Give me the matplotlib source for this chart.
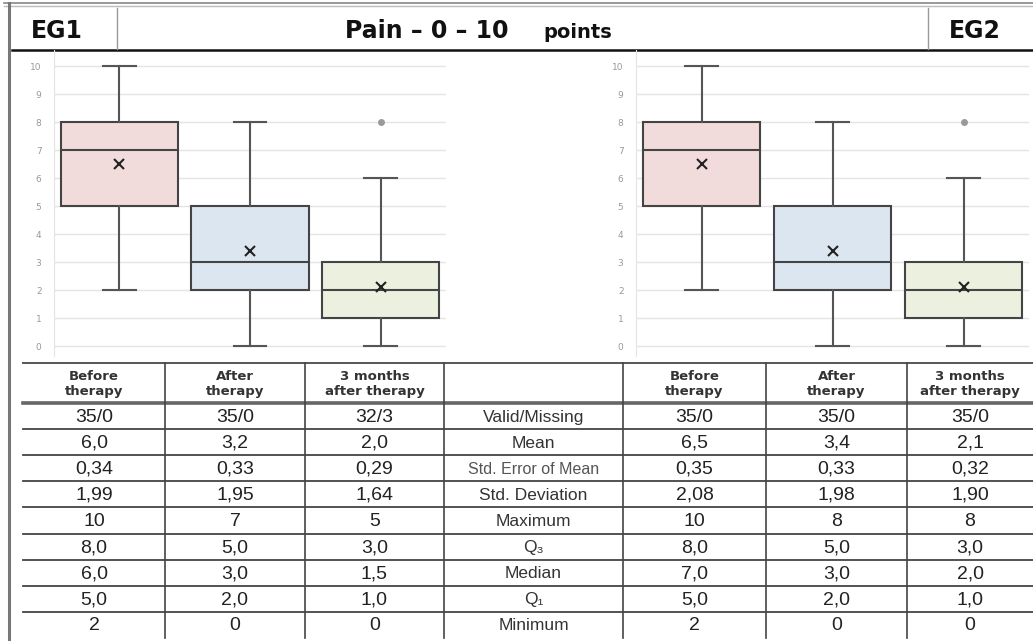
import matplotlib
matplotlib.use("Agg")
import matplotlib.pyplot as plt

# ---------------- data ----------------
groups = ["EG1", "EG2"]
phases = ["Before\ntherapy", "After\ntherapy", "3 months\nafter therapy"]

# box plot statistics (as drawn, identical in both panels)
box_whislo = [2, 0, 0]
box_q1 = [5, 2, 1]
box_med = [7, 3, 2]
box_q3 = [8, 5, 3]
box_whishi = [10, 8, 6]
box_mean = [6.5, 3.4, 2.1]
box_fliers = [[], [], [8]]
box_colors = ["#f2dcdb", "#dce6f1", "#ebf1de"]

stat_labels = ["Valid/Missing", "Mean", "Std. Error of Mean", "Std. Deviation",
               "Maximum", "Q\u2083", "Median", "Q\u2081", "Minimum"]
eg1_before = ["35/0", "6,0", "0,34", "1,99", "10", "8,0", "6,0", "5,0", "2"]
eg1_after = ["35/0", "3,2", "0,33", "1,95", "7", "5,0", "3,0", "2,0", "0"]
eg1_3m = ["32/3", "2,0", "0,29", "1,64", "5", "3,0", "1,5", "1,0", "0"]
eg2_before = ["35/0", "6,5", "0,35", "2,08", "10", "8,0", "7,0", "5,0", "2"]
eg2_after = ["35/0", "3,4", "0,33", "1,98", "8", "5,0", "3,0", "2,0", "0"]
eg2_3m = ["35/0", "2,1", "0,32", "1,90", "8", "3,0", "2,0", "1,0", "0"]

# ---------------- figure ----------------
W, H = 1033, 641
fig = plt.figure(figsize=(W / 100, H / 100), dpi=100)
fig.patch.set_facecolor("white")

ov = fig.add_axes([0, 0, 1, 1], zorder=0)
ov.set_xlim(0, W)
ov.set_ylim(H, 0)
ov.axis("off")

# outer frame / header
ov.plot([4, W], [3, 3], color="#888888", lw=1.2)
ov.plot([4, W], [6, 6], color="#bbbbbb", lw=1.0)
ov.plot([9, 9], [3, H], color="#777777", lw=2.2)
ov.plot([12, W], [50, 50], color="#111111", lw=1.8)
ov.plot([117, 117], [8, 49], color="#999999", lw=1.0)
ov.plot([928, 928], [8, 49], color="#999999", lw=1.0)

ov.text(57, 38, groups[0], fontsize=17, fontweight="bold", ha="center",
        va="baseline", color="#111111", family="DejaVu Sans")
ov.text(975, 38, groups[1], fontsize=17, fontweight="bold", ha="center",
        va="baseline", color="#111111", family="DejaVu Sans")
ov.text(427, 38, "Pain \u2013 0 \u2013 10", fontsize=17, fontweight="bold",
        ha="center", va="baseline", color="#111111", family="DejaVu Sans")
ov.text(578, 38, "points", fontsize=14, fontweight="bold", ha="center",
        va="baseline", color="#111111", family="DejaVu Sans")


# ---------------- box plots ----------------
def make_box_axes(x0, x1):
    y0, y1 = 50, 356
    ax = fig.add_axes([x0 / W, 1 - y1 / H, (x1 - x0) / W, (y1 - y0) / H], zorder=2)
    ax.set_facecolor("none")
    stats = []
    for i in range(3):
        stats.append(dict(whislo=box_whislo[i], q1=box_q1[i], med=box_med[i],
                          q3=box_q3[i], whishi=box_whishi[i], mean=box_mean[i],
                          fliers=box_fliers[i], label=""))
    res = ax.bxp(stats, positions=[1, 2, 3], widths=0.9, capwidths=0.25,
                 patch_artist=True, showmeans=True,
                 boxprops=dict(edgecolor="#444444", linewidth=1.5),
                 whiskerprops=dict(color="#555555", linewidth=1.5),
                 capprops=dict(color="#555555", linewidth=1.5),
                 medianprops=dict(color="#444444", linewidth=1.5),
                 meanprops=dict(marker="x", markeredgecolor="#222222",
                                markersize=7, markeredgewidth=1.5),
                 flierprops=dict(marker="o", markerfacecolor="#9a9a9a",
                                 markeredgecolor="#9a9a9a", markersize=4))
    for patch, c in zip(res["boxes"], box_colors):
        patch.set_facecolor(c)
    ax.set_xlim(0.5, 3.5)
    ax.set_ylim(-10 / 28, 10 + 16 / 28)
    ax.set_yticks(range(0, 11))
    ax.set_xticks([])
    ax.tick_params(axis="y", length=0, pad=9, labelsize=6.5, labelcolor="#999999")
    ax.yaxis.grid(True, color="#e4e4e4", linewidth=1.0)
    ax.set_axisbelow(True)
    for s in ["top", "right", "bottom"]:
        ax.spines[s].set_visible(False)
    ax.spines["left"].set_color("#e4e4e4")
    return ax


make_box_axes(54, 446)
make_box_axes(636, 1029)

# ---------------- table ----------------
col_lines = [23, 165, 305, 444, 623, 766, 907, W]
head_top, head_bot = 363, 403
row_h = 26.1
n_rows = len(stat_labels)
row_edges = [head_bot + i * row_h for i in range(n_rows + 1)]

ov.plot([23, W], [head_top, head_top], color="#555555", lw=1.4)
ov.plot([23, W], [head_bot, head_bot], color="#666666", lw=2.6)
for y in row_edges[1:-1]:
    ov.plot([23, W], [y, y], color="#444444", lw=1.3)
for x in col_lines[1:-1]:
    ov.plot([x, x], [head_top, row_edges[-1]], color="#444444", lw=1.2)

centers = [(col_lines[i] + col_lines[i + 1]) / 2 for i in range(7)]
head_cols = [0, 1, 2, 4, 5, 6]
for k, ci in enumerate(head_cols):
    ov.text(centers[ci], (head_top + head_bot) / 2 + 1, phases[k % 3],
            fontsize=9.5, fontweight="bold", ha="center", va="center",
            color="#333333", family="DejaVu Sans", linespacing=1.25)

data_cols = [eg1_before, eg1_after, eg1_3m, stat_labels, eg2_before, eg2_after, eg2_3m]
for ci, col in enumerate(data_cols):
    for ri, val in enumerate(col):
        yc = (row_edges[ri] + row_edges[ri + 1]) / 2 + 1
        if ci == 3:
            fs = 11.5 if val == "Std. Error of Mean" else 12.5
            colr = "#555555" if val == "Std. Error of Mean" else "#333333"
            ov.text(centers[ci], yc, val, fontsize=fs, ha="center", va="center",
                    color=colr, family=["Liberation Sans", "DejaVu Sans"])
        else:
            ov.text(centers[ci], yc, val, fontsize=14, ha="center", va="center",
                    color="#222222", family="Liberation Sans")

fig.savefig("out.png", dpi=100, facecolor="white")
